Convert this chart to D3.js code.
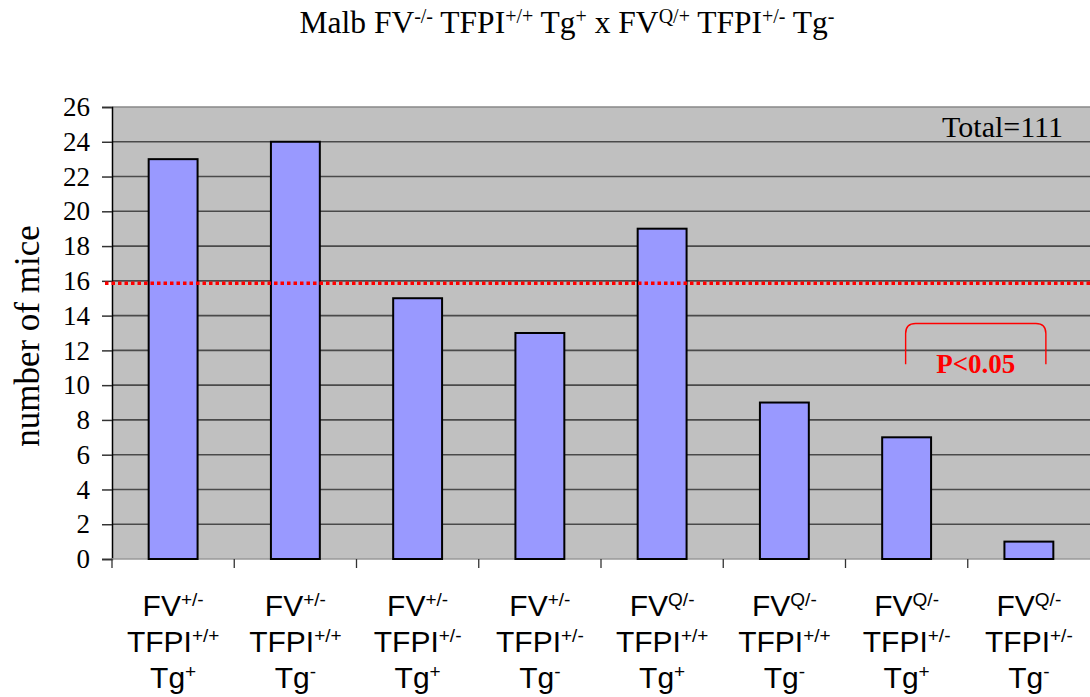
<!DOCTYPE html>
<html>
<head>
<meta charset="utf-8">
<script src="https://cdn.jsdelivr.net/npm/d3@7"></script>
<style>
  body { margin: 0; background: #fff; }
</style>
</head>
<body>
<div id="chart"></div>
<script>
const width = 1090;
const height = 697;
const margin = {'top': 107, 'bottom': 138, 'left': 112, 'right': 0};

// genotype groups (superscripts of each label line)
const fvSup = ['+/-', '+/-', '+/-', '+/-', 'Q/-', 'Q/-', 'Q/-', 'Q/-'];
const tfpiSup = ['+/+', '+/+', '+/-', '+/-', '+/+', '+/+', '+/-', '+/-'];
const tgSup = ['+', '-', '+', '-', '+', '-', '+', '-'];
const mice = [23, 24, 15, 13, 19, 9, 7, 1];
const yTicks = [0, 2, 4, 6, 8, 10, 12, 14, 16, 18, 20, 22, 24, 26];
const expected = 15.86;   // red dotted line (111 / 7)
const total = 111;
const pLabel = 'P<0.05';
const pPair = [6, 7];     // bracket spans these groups

const categories = mice.map((d, i) => i);
const serif = 'Liberation Serif, Times New Roman, serif';
const sansFont = 'Liberation Sans, Arial, sans-serif';

const svg = d3.select('#chart')
    .append('svg')
    .attr('width', width)
    .attr('height', height);

// scales
const x = d3.scaleBand()
    .domain(categories)
    .range([margin.left, width - margin.right])
    .padding(0);

const y = d3.scaleLinear()
    .domain([0, 26])
    .range([height - margin.bottom, margin.top]);

const barW = x.bandwidth() * 0.4;

// plot background
svg.append('rect')
    .attr('x', margin.left)
    .attr('y', y(26))
    .attr('width', width - margin.right - margin.left)
    .attr('height', y(0) - y(26))
    .attr('fill', '#c0c0c0');

// gridlines
svg.append('g')
    .selectAll('line')
    .data(yTicks.filter(d => d > 0))
    .join('line')
    .attr('x1', margin.left)
    .attr('x2', width - margin.right)
    .attr('y1', d => y(d))
    .attr('y2', d => y(d))
    .attr('stroke', d => d === 26 ? '#888' : '#4a4a4a')
    .attr('stroke-width', 1.6);

// y axis (ticks only, labels drawn below in serif)
const yAxis = svg.append('g')
    .attr('transform', 'translate(' + margin.left + ',0)')
    .call(d3.axisLeft(y).tickValues(yTicks).tickSize(10).tickFormat(''));
yAxis.select('.domain').attr('stroke', '#000').attr('stroke-width', 1.5);
yAxis.selectAll('.tick line').attr('stroke', '#333').attr('stroke-width', 1.5);

svg.append('g')
    .selectAll('text')
    .data(yTicks)
    .join('text')
    .attr('x', margin.left - 22)
    .attr('y', d => y(d))
    .attr('dy', '0.34em')
    .attr('text-anchor', 'end')
    .attr('font-family', serif)
    .attr('font-size', 27)
    .attr('fill', '#000')
    .text(d => d);

// x axis line + ticks at category boundaries
svg.append('line')
    .attr('x1', margin.left)
    .attr('x2', width - margin.right)
    .attr('y1', y(0))
    .attr('y2', y(0))
    .attr('stroke', '#999')
    .attr('stroke-width', 1.5);

svg.append('g')
    .selectAll('line')
    .data(categories)
    .join('line')
    .attr('x1', d => x(d))
    .attr('x2', d => x(d))
    .attr('y1', y(0))
    .attr('y2', y(0) + 9)
    .attr('stroke', '#333')
    .attr('stroke-width', 1.3);

// bars
svg.append('g')
    .selectAll('rect')
    .data(mice)
    .join('rect')
    .attr('x', (d, i) => x(i) + x.bandwidth() / 2 - barW / 2)
    .attr('y', d => y(d))
    .attr('width', barW)
    .attr('height', d => y(0) - y(d))
    .attr('fill', '#9999ff')
    .attr('stroke', '#000')
    .attr('stroke-width', 2);

// expected count line
svg.append('line')
    .attr('x1', margin.left - 7)
    .attr('x2', width - margin.right)
    .attr('y1', y(expected))
    .attr('y2', y(expected))
    .attr('stroke', '#ff0000')
    .attr('stroke-width', 3.5)
    .attr('stroke-dasharray', '3.5,3');

// x labels (three lines, each with superscript)
const labelLines = [
    {base: 'FV', sups: fvSup, y: 616},
    {base: 'TFPI', sups: tfpiSup, y: 652},
    {base: 'Tg', sups: tgSup, y: 688}
];
labelLines.forEach(line => {
    const t = svg.append('g')
        .selectAll('text')
        .data(categories)
        .join('text')
        .attr('x', d => x(d) + x.bandwidth() / 2)
        .attr('y', line.y)
        .attr('text-anchor', 'middle')
        .attr('font-family', sansFont)
        .attr('font-size', 30)
        .attr('fill', '#000');
    t.append('tspan').text(line.base);
    t.append('tspan')
        .attr('font-size', 19)
        .attr('dy', -10)
        .text(d => line.sups[d]);
});

// y axis title
svg.append('text')
    .attr('transform', 'translate(39,' + ((y(0) + y(26)) / 2 + 3) + ') rotate(-90)')
    .attr('text-anchor', 'middle')
    .attr('font-family', serif)
    .attr('font-size', 35)
    .text('number of mice');

// chart title
const titleParts = [
    ['Malb FV', false], ['-/-', true], [' TFPI', false], ['+/+', true],
    [' Tg', false], ['+', true], [' x FV', false], ['Q/+', true],
    [' TFPI', false], ['+/-', true], [' Tg', false], ['-', true]
];
const title = svg.append('text')
    .attr('x', 567)
    .attr('y', 33)
    .attr('text-anchor', 'middle')
    .attr('font-family', serif)
    .attr('font-size', 31.5);
let prevSup = false;
titleParts.forEach(p => {
    const ts = title.append('tspan').text(p[0]);
    if (p[1]) { ts.attr('font-size', 20).attr('dy', -10); }
    else if (prevSup) { ts.attr('dy', 10); }
    prevSup = p[1];
});

// total
svg.append('text')
    .attr('x', width - margin.right - 27)
    .attr('y', y(24.25))
    .attr('text-anchor', 'end')
    .attr('font-family', serif)
    .attr('font-size', 30)
    .text('Total=' + total);

// significance bracket
const bx1 = x(pPair[0]) + x.bandwidth() / 2 - 1;
const bx2 = x(pPair[1]) + x.bandwidth() / 2 + 17;
const byLow = y(11.2);
const byTop = y(13.55);
const r = 10;
svg.append('path')
    .attr('d', 'M' + bx1 + ',' + byLow +
        ' L' + bx1 + ',' + (byTop + r) +
        ' Q' + bx1 + ',' + byTop + ' ' + (bx1 + r) + ',' + byTop +
        ' L' + (bx2 - r) + ',' + byTop +
        ' Q' + bx2 + ',' + byTop + ' ' + bx2 + ',' + (byTop + r) +
        ' L' + bx2 + ',' + byLow)
    .attr('fill', 'none')
    .attr('stroke', '#ff0000')
    .attr('stroke-width', 1.4);

svg.append('text')
    .attr('x', (bx1 + bx2) / 2)
    .attr('y', y(10.7))
    .attr('text-anchor', 'middle')
    .attr('font-family', serif)
    .attr('font-weight', 'bold')
    .attr('font-size', 27)
    .attr('fill', '#ff0000')
    .text(pLabel);
</script>
</body>
</html>
